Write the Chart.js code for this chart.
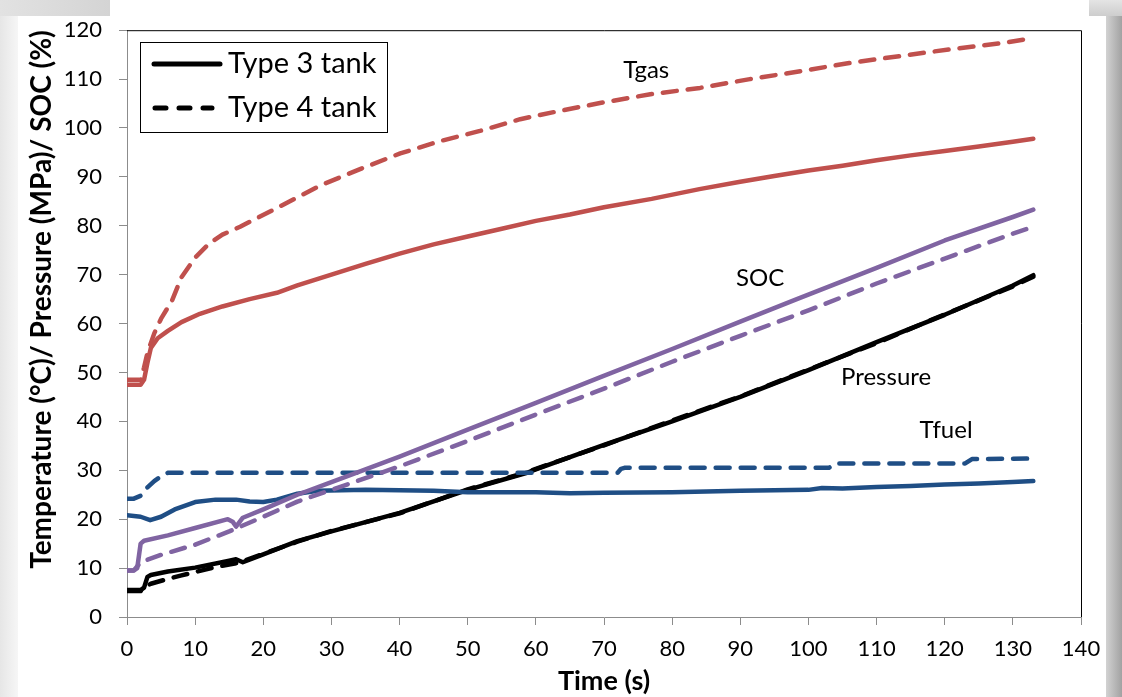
<!DOCTYPE html>
<html>
<head>
<meta charset="utf-8">
<script src="https://cdn.jsdelivr.net/npm/chart.js@4.4.1/dist/chart.umd.min.js"></script>
<style>
  html, body { margin: 0; padding: 0; background: #ffffff; }
  #wrap { position: relative; width: 1122px; height: 697px; overflow: hidden; background: #ffffff; }
  .shade { position: absolute; }
  #shLeft { left: 0; top: 0; width: 18px; height: 697px; background: linear-gradient(to right, #e6e6e6, #f6f6f6); }
  #shTopLeft { left: 0; top: 0; width: 110px; height: 16px; background: linear-gradient(to right, #e2e2e2, #d4d4d4); }
  #shRight { left: 1106px; top: 16px; width: 16px; height: 681px; background: linear-gradient(to right, #d2d2d2, #a2a2a2); }
  #shTopRight { left: 1089px; top: 0; width: 33px; height: 16px; background: linear-gradient(to bottom, #e4e4e4, #cdcdcd); }
  canvas { position: absolute; left: 0; top: 0; }
</style>
</head>
<body>
<div id="wrap">
  <div class="shade" id="shLeft"></div>
  <div class="shade" id="shTopLeft"></div>
  <div class="shade" id="shRight"></div>
  <div class="shade" id="shTopRight"></div>
  <canvas id="c" width="1122" height="697"></canvas>
</div>
<script>
// ---------------- data ----------------
const xTicks = [0, 10, 20, 30, 40, 50, 60, 70, 80, 90, 100, 110, 120, 130, 140];
const yTicks = [0, 10, 20, 30, 40, 50, 60, 70, 80, 90, 100, 110, 120];

// Tgas
const tgasType3Time = [0, 2, 2.5, 3, 3.5, 4.5, 6, 8, 10.7, 14, 18, 22, 25, 30, 35, 40, 45, 50, 55, 60, 65, 70, 77, 84, 90, 95, 100, 105, 110, 115, 120, 125, 130, 133];
const tgasType3 = [47.5, 47.5, 48.5, 52, 55, 57, 58.5, 60.3, 62, 63.5, 65, 66.3, 67.8, 70, 72.2, 74.3, 76.2, 77.8, 79.4, 81, 82.3, 83.8, 85.5, 87.5, 89, 90.2, 91.3, 92.3, 93.4, 94.4, 95.3, 96.2, 97.2, 97.8];
const tgasType4Time = [0, 2, 2.5, 3, 4, 5, 6.6, 8, 10, 12, 14, 16.6, 22.5, 28.3, 34.2, 40.1, 45.9, 51.8, 57.7, 63.5, 69.4, 76.8, 84.1, 91.4, 98.8, 106, 113.4, 120.8, 128.1, 133];
const tgasType4 = [48.5, 48.5, 51, 54, 58, 61, 64.7, 69.5, 73.5, 76.3, 78.2, 79.8, 84, 88.2, 91.6, 94.8, 97.3, 99.4, 101.8, 103.5, 105.1, 106.9, 108.2, 110, 111.6, 113.3, 114.7, 116.1, 117.3, 118.4];

// SOC
const socType3Time = [0, 1, 1.5, 2, 2.5, 6, 10, 14.8, 15.5, 16, 17, 20, 25, 30, 40, 50, 60, 69.4, 80, 90, 98.3, 110, 120, 130, 133];
const socType3 = [9.5, 9.5, 10, 15, 15.6, 16.7, 18.2, 20, 19.5, 18.5, 20.3, 22, 25, 27.6, 32.8, 38.3, 43.8, 49, 54.8, 60.4, 65, 71.4, 77, 81.8, 83.3];
const socType4Time = [0, 1, 2, 5, 10, 15, 20, 25, 30, 40, 50, 60, 70, 80, 90, 100, 110, 120, 130, 133];
const socType4 = [9.5, 9.5, 11.2, 12.7, 14.8, 17.5, 20.5, 23.6, 26, 30.8, 36, 41.4, 46.7, 52.2, 57.5, 62.7, 68.2, 73.3, 78.4, 79.8];

// Pressure
const presType3Time = [0, 2, 2.5, 3, 3.5, 6, 10, 15, 16, 17, 20, 25, 30, 40, 50, 58.7, 60, 70, 80, 90, 95.8, 100, 110, 120, 130, 133];
const presType3 = [5.5, 5.5, 6, 8.2, 8.6, 9.3, 10.1, 11.5, 11.8, 11.2, 12.8, 15.5, 17.5, 21.3, 26, 29.5, 30.2, 35.2, 40, 45, 48.2, 50.5, 56.2, 61.8, 67.8, 69.9];
const presType4Time = [0, 2, 2.5, 3.5, 6, 8, 10, 13, 16, 17, 20, 25, 30, 40, 50, 58.7, 60, 70, 80, 90, 95.8, 100, 110, 120, 130, 133];
const presType4 = [5.3, 5.3, 6, 6.8, 7.8, 8.5, 9.2, 10.2, 11, 11.4, 12.9, 15.4, 17.6, 21.2, 26.1, 29.6, 30.3, 35.1, 40.2, 45.1, 48.3, 50.6, 56, 61.9, 67.6, 69.6];

// Tfuel
const tfuelType3Time = [0, 2, 3.4, 5, 7, 10, 13, 16, 18, 20, 22, 25, 28, 35, 45, 50, 60, 65, 70, 80, 90, 100, 102, 105, 110, 115, 120, 125, 130, 133];
const tfuelType3 = [20.8, 20.5, 19.8, 20.5, 22, 23.5, 24, 24, 23.6, 23.5, 24, 25.2, 25.8, 26, 25.8, 25.5, 25.5, 25.3, 25.4, 25.5, 25.8, 26, 26.4, 26.3, 26.6, 26.8, 27.1, 27.3, 27.6, 27.8];
const tfuelType4Time = [0, 1, 2, 3, 4, 5, 6, 72, 72.5, 73, 103, 104, 123, 124, 133];
const tfuelType4 = [24.2, 24.2, 24.8, 26.5, 27.8, 28.8, 29.5, 29.5, 30.3, 30.5, 30.5, 31.4, 31.4, 32.3, 32.4];

const seriesLabels = ['Tgas', 'SOC', 'Pressure', 'Tfuel'];
const legendLabels = ['Type 3 tank', 'Type 4 tank'];
// label anchors (data coordinates of the in-plot captions)
const captionTime = [76.2, 92.9, 111.4, 120.2];
const captionValue = [111.8, 69.2, 49.0, 38.2];

// ---------------- build ----------------
const pair = (ts, vs) => ts.map((t, i) => ({ x: t, y: vs[i] }));
const RED = '#C0504D', PURPLE = '#8064A2', BLACK = '#000000', BLUE = '#1F4E85';
const LW = 4.5;
const DASH = [14, 11];
function ds(label, ts, vs, color, dashed) {
  return {
    label, data: pair(ts, vs), borderColor: color, backgroundColor: color,
    borderWidth: LW, borderDash: dashed ? DASH : [], borderCapStyle: 'round', borderJoinStyle: 'round',
    pointRadius: 0, pointHoverRadius: 0, tension: 0, fill: false
  };
}
const datasets = [
  ds('Tgas Type 3', tgasType3Time, tgasType3, RED, false),
  ds('Tgas Type 4', tgasType4Time, tgasType4, RED, true),
  ds('SOC Type 3', socType3Time, socType3, PURPLE, false),
  ds('SOC Type 4', socType4Time, socType4, PURPLE, true),
  ds('Tfuel Type 3', tfuelType3Time, tfuelType3, BLUE, false),
  ds('Tfuel Type 4', tfuelType4Time, tfuelType4, BLUE, true),
  ds('Pressure Type 3', presType3Time, presType3, BLACK, false),
  ds('Pressure Type 4', presType4Time, presType4, BLACK, true),
];

const FONT = 'Lato, "Open Sans", sans-serif';

const decorPlugin = {
  id: 'decor',
  beforeDatasetsDraw(chart) {
    const { ctx, chartArea: a } = chart;
    ctx.save();
    ctx.strokeStyle = '#000';
    ctx.lineWidth = 1;
    ctx.beginPath();
    ctx.moveTo(a.left, a.top + 0.5);
    ctx.lineTo(a.right + 0.5, a.top + 0.5);
    ctx.lineTo(a.right + 0.5, a.bottom);
    ctx.stroke();
    ctx.restore();
  },
  afterDatasetsDraw(chart) {
    const { ctx, scales } = chart;
    ctx.save();
    // captions
    ctx.fillStyle = '#000';
    ctx.font = '24px ' + FONT;
    ctx.textAlign = 'center';
    ctx.textBaseline = 'middle';
    seriesLabels.forEach((s, i) => {
      ctx.fillText(s, scales.x.getPixelForValue(captionTime[i]), scales.y.getPixelForValue(captionValue[i]));
    });
    // legend
    const bx = 140.5, by = 42.5, bw = 247, bh = 90;
    ctx.fillStyle = '#fff';
    ctx.fillRect(bx, by, bw, bh);
    ctx.strokeStyle = '#000';
    ctx.lineWidth = 1;
    ctx.strokeRect(bx, by, bw, bh);
    const rows = [64, 108];
    ctx.lineWidth = 5;
    ctx.lineCap = 'round';
    ctx.beginPath();
    ctx.setLineDash([]);
    ctx.moveTo(154, rows[0]); ctx.lineTo(220, rows[0]);
    ctx.stroke();
    ctx.beginPath();
    ctx.setLineDash([11, 13]);
    ctx.moveTo(155, rows[1]); ctx.lineTo(212, rows[1]);
    ctx.stroke();
    ctx.setLineDash([]);
    ctx.fillStyle = '#000';
    ctx.font = '29px ' + FONT;
    ctx.textAlign = 'left';
    ctx.textBaseline = 'middle';
    ctx.fillText(legendLabels[0], 228, rows[0]);
    ctx.fillText(legendLabels[1], 228, rows[1]);
    ctx.restore();
  }
};

new Chart(document.getElementById('c'), {
  type: 'line',
  data: { datasets },
  options: {
    responsive: false,
    animation: false,
    events: [],
    layout: { padding: { left: 0, top: 29, right: 41, bottom: 0 } },
    plugins: { legend: { display: false }, tooltip: { enabled: false } },
    scales: {
      x: {
        type: 'linear', min: 0, max: 140,
        afterBuildTicks: (s) => { s.ticks = xTicks.map(v => ({ value: v })); },
        afterFit: (s) => { s.height = 80; },
        ticks: { color: '#000', font: { family: FONT, size: 22 }, padding: 11, maxRotation: 0, autoSkip: false },
        grid: { display: true, drawOnChartArea: false, drawTicks: true, tickLength: 8, color: '#8c8c8c', lineWidth: 1 },
        border: { display: true, color: '#8c8c8c', width: 1 },
        title: { display: true, text: 'Time (s)', color: '#000', font: { family: FONT, size: 27, weight: 'bold' }, padding: { top: 0, bottom: 0 } }
      },
      y: {
        type: 'linear', min: 0, max: 120,
        afterBuildTicks: (s) => { s.ticks = yTicks.map(v => ({ value: v })); },
        afterFit: (s) => { s.width = 127; },
        ticks: { color: '#000', font: { family: FONT, size: 22 }, padding: 17, autoSkip: false },
        grid: { display: true, drawOnChartArea: false, drawTicks: true, tickLength: 8, color: '#8c8c8c', lineWidth: 1 },
        border: { display: true, color: '#8c8c8c', width: 1 },
        title: { display: true, text: 'Temperature (°C)/ Pressure (MPa)/ SOC (%)', align: 'end', color: '#000', font: { family: FONT, size: 28, weight: 'bold' }, padding: { top: 25, bottom: 0 } }
      }
    }
  },
  plugins: [decorPlugin]
});
</script>
</body>
</html>
